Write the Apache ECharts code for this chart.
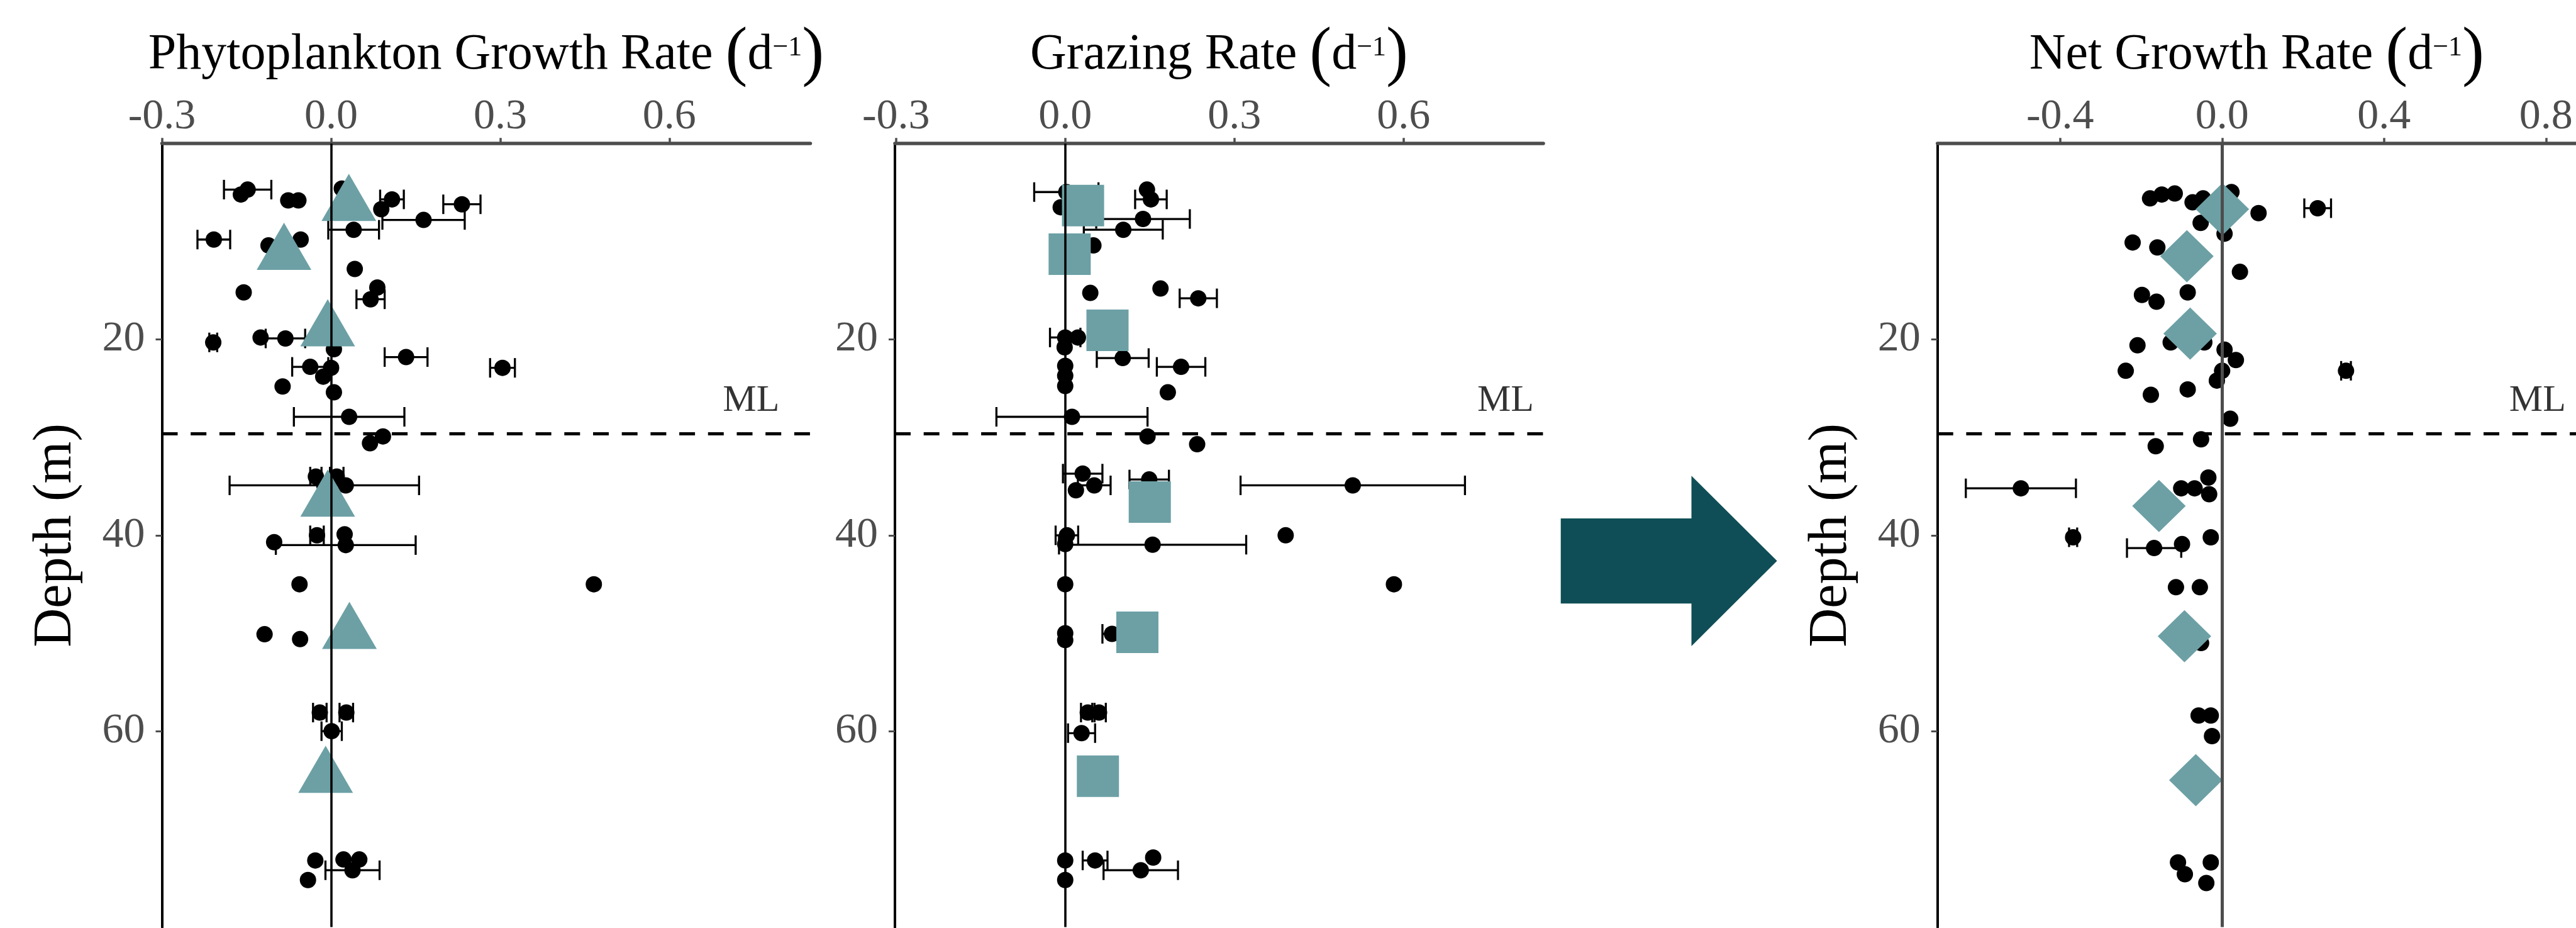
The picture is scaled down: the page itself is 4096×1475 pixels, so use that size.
<!DOCTYPE html>
<html><head><meta charset="utf-8">
<script src="https://cdn.jsdelivr.net/npm/echarts@6/dist/echarts.min.js"></script>
<style>html,body{margin:0;padding:0;background:#fff}#c{width:4096px;height:1475px}</style>
</head><body><div id="c"></div><script>
// ---------- DATA (value, depth m, half-width of error bar) ----------
const growthObs = [[-0.148,4.7,0.042],[-0.160,5.2,0],[-0.076,5.8,0],[-0.058,5.8,0],[0.019,4.6,0],[0.108,5.7,0.021],[0.089,6.7,0],[0.232,6.2,0.033],[0.164,7.8,0.073],[0.040,8.8,0.045],[-0.208,9.8,0.029],[-0.111,10.4,0],[-0.054,9.8,0],[0.042,12.8,0],[-0.155,15.2,0],[0.082,14.7,0],[0.070,15.9,0.025],[-0.209,20.3,0.007],[-0.125,19.8,0],[-0.081,19.9,0.035],[0.005,21.0,0],[0.133,21.8,0.038],[0.304,22.9,0.022],[-0.037,22.8,0.032],[0.000,22.9,0],[-0.014,23.8,0],[-0.086,24.8,0],[0.005,25.4,0],[0.032,27.9,0.098],[0.092,29.9,0],[0.069,30.6,0],[-0.012,34.9,0.168],[0.026,34.9,0],[-0.027,34.0,0.010],[0.010,34.0,0.012],[-0.101,40.7,0],[-0.025,40.0,0.012],[0.024,39.9,0],[0.026,41.0,0.124],[-0.056,45.0,0],[0.466,45.0,0],[-0.118,50.1,0],[-0.055,50.6,0],[-0.020,58.1,0.012],[0.027,58.1,0.012],[0.001,60.0,0.018],[-0.028,73.2,0],[-0.041,75.2,0],[0.022,73.1,0],[0.050,73.1,0],[0.038,74.2,0.048]];
const growthMean = [[0.0315,6.3],[-0.0835,11.3],[-0.006,19.1],[-0.006,36.5],[0.0325,50.0],[-0.0097,64.7]];

const grazingObs = [[0.002,4.95,0.057],[-0.008,6.5,0],[0.145,4.7,0],[0.152,5.7,0.028],[0.138,7.7,0.083],[0.103,8.8,0.070],[0.050,10.4,0],[0.0445,15.25,0],[0.169,14.8,0],[0.236,15.8,0.033],[0.000,19.8,0.027],[0.0225,19.8,0],[-0.001,20.8,0],[0.102,21.9,0.046],[0.2055,22.8,0.043],[0,22.7,0],[0,23.7,0],[0,24.75,0],[0.182,25.4,0],[0.012,27.9,0.134],[0.146,29.9,0],[0.234,30.7,0],[0.031,33.7,0.035],[0.0515,34.9,0.029],[0.019,35.4,0],[0.149,34.3,0.035],[0.510,34.9,0.199],[0.003,40.0,0.02],[0,40.9,0],[0.155,40.96,0.166],[0.391,40.0,0],[0,45.0,0],[0.583,45.0,0],[0,50.0,0],[0,50.7,0],[0.083,50.06,0.017],[0.040,58.1,0.012],[0.060,58.1,0.012],[0.029,60.2,0.024],[0,73.2,0],[0,75.2,0],[0.053,73.2,0.022],[0.156,72.9,0],[0.134,74.2,0.066]];
const grazingMean = [[0.0316,6.33],[0.0079,11.3],[0.075,19.07],[0.150,36.6],[0.128,49.9],[0.058,64.6]];

const netObs = [[-0.178,5.6,0],[-0.149,5.2,0],[-0.117,5.1,0],[-0.073,6.0,0],[-0.047,5.6,0],[0.023,4.95,0],[0.090,7.1,0],[0.236,6.6,0.033],[-0.053,8.1,0],[0.006,9.2,0],[-0.221,10.1,0],[-0.160,10.6,0],[0.044,13.1,0],[-0.198,15.45,0],[-0.162,16.15,0],[-0.085,15.2,0],[-0.209,20.6,0],[-0.127,20.3,0],[-0.044,20.3,0],[0.006,21.05,0],[0.034,22.1,0],[0.000,23.2,0],[-0.013,24.2,0],[-0.238,23.2,0],[0.306,23.2,0.012],[-0.085,25.1,0],[-0.176,25.65,0],[0.020,28.1,0],[-0.052,30.2,0],[-0.164,30.9,0],[-0.497,35.2,0.136],[-0.034,34.1,0],[-0.101,35.2,0],[-0.068,35.2,0],[-0.032,35.8,0],[-0.368,40.2,0.010],[-0.028,40.2,0],[-0.168,41.3,0.067],[-0.099,40.9,0],[-0.114,45.3,0],[-0.055,45.3,0],[-0.052,51.0,0],[-0.058,58.4,0],[-0.028,58.4,0],[-0.025,60.5,0],[-0.109,73.4,0],[-0.092,74.6,0],[-0.028,73.4,0],[-0.039,75.5,0]];
const netMean = [[0.0006,6.7],[-0.087,11.5],[-0.079,19.4],[-0.156,37.0],[-0.093,50.3],[-0.065,65.0]];

const mlDepth = 29.6;
const mlLabelX = [0.745, 0.781, 0.779];
const xTicksA = [-0.3, 0.0, 0.3, 0.6];
const xTicksB = [-0.4, 0.0, 0.4, 0.8];
const yTicks = [20, 40, 60];
const titleMain = ['Phytoplankton Growth Rate ', 'Grazing Rate ', 'Net Growth Rate '];
const unitBase = 'd';
const unitExp = '\u22121';
const depthTitle = 'Depth (m)';
const mlText = 'ML';
const xRanges = [[-0.3, 0.85], [-0.302, 0.848], [-0.703, 0.874]];
const depthRange = [0, 80];

// ---------- STYLE / LAYOUT ----------
const FONT = "'Liberation Serif','Times New Roman',serif";
const GREY = '#4D4D4D';
const TEAL = '#6CA0A5';
const lefts = [257.5, 1423, 3080.7];
const gridTop = 228.2, gridW = 1031, gridH = 1245.3;
const obsSets = [growthObs, grazingObs, netObs];
const meanSets = [growthMean, grazingMean, netMean];
const meanSymbols = [
  {symbol:'triangle', size:[87,75], offset:[0,-12.5]},
  {symbol:'rect', size:[67,66], offset:[0,0]},
  {symbol:'diamond', size:[85,83], offset:[0,0]}
];
const zeroStyles = [
  {color:'#000', width:3.6},
  {color:'#000', width:3.6},
  {color:GREY, width:5}
];

function errRender(params, api){
  const e = api.value(2);
  if (!e) return null;
  const x = api.value(0), d = api.value(1);
  const a = api.coord([x - e, d]), b = api.coord([x + e, d]);
  const h = 15.5;
  const st = {stroke:'#000', lineWidth:3.3};
  return {type:'group', children:[
    {type:'line', shape:{x1:a[0], y1:a[1], x2:b[0], y2:b[1]}, style:st},
    {type:'line', shape:{x1:a[0], y1:a[1]-h, x2:a[0], y2:a[1]+h}, style:st},
    {type:'line', shape:{x1:b[0], y1:b[1]-h, x2:b[0], y2:b[1]+h}, style:st}
  ]};
}

const grid = [], xAxis = [], yAxis = [], series = [];
for (let i = 0; i < 3; i++) {
  grid.push({left:lefts[i], top:gridTop, width:gridW, height:gridH, containLabel:false});
  const ticks = i === 2 ? xTicksB : xTicksA;
  xAxis.push({
    gridIndex:i, type:'value', position:'top', min:xRanges[i][0], max:xRanges[i][1],
    axisLine:{show:true, onZero:false, lineStyle:{color:GREY, width:5.5}},
    axisTick:{show:true, length:9, customValues:ticks, lineStyle:{color:GREY, width:3.5}},
    axisLabel:{show:true, customValues:ticks, formatter:v => v.toFixed(1), fontSize:68, color:GREY, fontFamily:FONT, margin:8},
    splitLine:{show:false},
    name:'{t|' + titleMain[i] + '}{p|(}{t|' + unitBase + '}{s|' + unitExp + '}{p|)}',
    nameLocation:'middle', nameGap:90,
    nameTextStyle:{color:'#000', fontFamily:FONT, rich:{
      t:{fontSize:80, fontFamily:FONT, color:'#000', lineHeight:100},
      p:{fontSize:105, fontFamily:FONT, color:'#000', lineHeight:100},
      s:{fontSize:44, fontFamily:FONT, color:'#000', padding:[0,0,24,0]}
    }}
  });
  yAxis.push({
    gridIndex:i, type:'value', inverse:true, min:depthRange[0], max:depthRange[1],
    axisLine:{show:true, onZero:false, lineStyle:{color:'#000', width:4}},
    axisTick:{show:true, length:10, customValues:yTicks, lineStyle:{color:GREY, width:3}},
    axisLabel:{show:true, customValues:yTicks, fontSize:68, color:GREY, fontFamily:FONT, margin:27},
    splitLine:{show:false},
    name: i === 1 ? '' : depthTitle, nameLocation:'middle', nameGap:123, nameRotate:90,
    nameTextStyle:{fontSize:86, color:'#000', fontFamily:FONT, lineHeight:90}
  });
  series.push({
    type:'line', xAxisIndex:i, yAxisIndex:i, data:[], z:1, silent:true,
    markLine:{silent:true, symbol:['none','none'], label:{show:false}, animation:false,
      data:[
        {xAxis:0, lineStyle:{color:zeroStyles[i].color, width:zeroStyles[i].width, type:'solid'}},
        {yAxis:mlDepth, lineStyle:{color:'#000', width:5, type:[25,20.7]}}
      ]}
  });
  series.push({
    type:'custom', xAxisIndex:i, yAxisIndex:i, data:obsSets[i], encode:{x:0, y:1},
    renderItem:errRender, z:2, silent:true
  });
  series.push({
    type:'scatter', xAxisIndex:i, yAxisIndex:i, data:obsSets[i].map(r => [r[0], r[1]]),
    symbol:'circle', symbolSize:26, itemStyle:{color:'#000', opacity:1}, z:3, silent:true
  });
  series.push({
    type:'scatter', xAxisIndex:i, yAxisIndex:i, data:meanSets[i],
    symbol:meanSymbols[i].symbol, symbolSize:meanSymbols[i].size, symbolOffset:meanSymbols[i].offset,
    itemStyle:{color:TEAL, opacity:1}, z:4, silent:true
  });
  series.push({
    type:'scatter', xAxisIndex:i, yAxisIndex:i, data:[[mlLabelX[i], mlDepth]],
    symbolSize:1, itemStyle:{color:'transparent'}, z:5, silent:true,
    label:{show:true, position:'top', distance:21, formatter:mlText, fontSize:60, lineHeight:60, color:'#000', fontFamily:FONT}
  });
}

const chart = echarts.init(document.getElementById('c'), null, {renderer:'canvas'});
chart.setOption({
  animation:false,
  backgroundColor:'#fff',
  grid, xAxis, yAxis, series,
  graphic:[{
    type:'polygon', silent:true,
    shape:{points:[[2481.7,824],[2689.5,824],[2689.5,756.3],[2825.6,891.6],[2689.5,1026.9],[2689.5,959.3],[2481.7,959.3]]},
    style:{fill:'#0F4E56'}
  }]
});
</script></body></html>
